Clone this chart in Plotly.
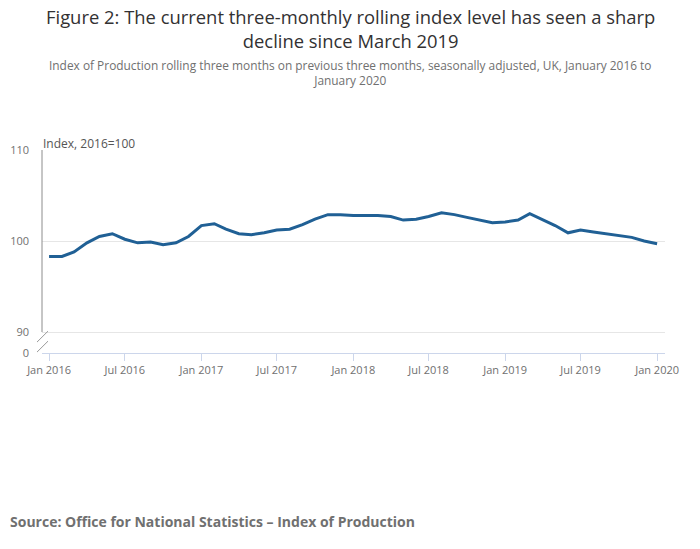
import plotly.graph_objects as go

months = [
    "2016-01-01", "2016-02-01", "2016-03-01", "2016-04-01", "2016-05-01", "2016-06-01",
    "2016-07-01", "2016-08-01", "2016-09-01", "2016-10-01", "2016-11-01", "2016-12-01",
    "2017-01-01", "2017-02-01", "2017-03-01", "2017-04-01", "2017-05-01", "2017-06-01",
    "2017-07-01", "2017-08-01", "2017-09-01", "2017-10-01", "2017-11-01", "2017-12-01",
    "2018-01-01", "2018-02-01", "2018-03-01", "2018-04-01", "2018-05-01", "2018-06-01",
    "2018-07-01", "2018-08-01", "2018-09-01", "2018-10-01", "2018-11-01", "2018-12-01",
    "2019-01-01", "2019-02-01", "2019-03-01", "2019-04-01", "2019-05-01", "2019-06-01",
    "2019-07-01", "2019-08-01", "2019-09-01", "2019-10-01", "2019-11-01", "2019-12-01",
    "2020-01-01",
]

index_values = [
    98.3, 98.3, 98.8, 99.8, 100.5, 100.8, 100.2, 99.8, 99.9, 99.6, 99.8, 100.5,
    101.7, 101.9, 101.3, 100.8, 100.7, 100.9, 101.2, 101.3, 101.8, 102.4, 102.9, 102.9,
    102.8, 102.8, 102.8, 102.7, 102.3, 102.4, 102.7, 103.1, 102.9, 102.6, 102.3, 102.0,
    102.1, 102.3, 103.0, 102.3, 101.7, 100.9, 101.2, 101.0, 100.8, 100.6, 100.4, 100.0,
    99.7,
]

x_tick_vals = [
    "2016-01-01", "2016-07-01", "2017-01-01", "2017-07-01", "2018-01-01",
    "2018-07-01", "2019-01-01", "2019-07-01", "2020-01-01",
]
x_tick_text = [
    "Jan 2016", "Jul 2016", "Jan 2017", "Jul 2017", "Jan 2018",
    "Jul 2018", "Jan 2019", "Jul 2019", "Jan 2020",
]

y_break_pos = 87.7
y_tick_vals = [y_break_pos, 90, 100, 110]
y_tick_text = ["0", "90", "100", "110"]

title_text = ("Figure 2: The current three-monthly rolling index level has seen a sharp"
              "<br>decline since March 2019")
subtitle_text = ("Index of Production rolling three months on previous three months, "
                 "seasonally adjusted, UK, January 2016 to<br>January 2020")
unit_text = "Index, 2016=100"
source_text = "<b>Source: Office for National Statistics – Index of Production</b>"

FONT = "Open Sans, Noto Sans, sans-serif"
W, H = 700, 549
ML, MR, MT, MB = 42, 35, 150, 196
plot_h = H - MT - MB
plot_w = W - ML - MR


def py(px_from_top):
    return (H - MB - px_from_top) / plot_h


def px(px_from_left):
    return (px_from_left - ML) / plot_w


fig = go.Figure()
fig.add_trace(go.Scatter(
    x=months, y=index_values, mode="lines",
    line=dict(color="#206095", width=3),
    name="Index", showlegend=False,
))

annotations = [
    dict(text=title_text, x=px(350), y=py(28), xref="paper", yref="paper",
         showarrow=False, font=dict(size=18.4, color="#323132", family=FONT),
         xanchor="center", yanchor="middle"),
    dict(text=subtitle_text, x=px(350), y=py(72.5), xref="paper", yref="paper",
         showarrow=False, font=dict(size=11.9, color="#707070", family=FONT),
         xanchor="center", yanchor="middle"),
    dict(text=unit_text, x=px(41), y=py(143), xref="paper", yref="paper",
         showarrow=False, font=dict(size=12, color="#555555", family=FONT),
         xanchor="left", yanchor="middle"),
    dict(text=source_text, x=px(8), y=py(521), xref="paper", yref="paper",
         showarrow=False, font=dict(size=14, color="#707070", family=FONT),
         xanchor="left", yanchor="middle"),
]

fig.update_layout(
    width=W, height=H,
    margin=dict(l=ML, r=MR, t=MT, b=MB, autoexpand=False),
    paper_bgcolor="white", plot_bgcolor="white",
    font=dict(family=FONT, color="#707070", size=11),
    xaxis=dict(
        range=["2015-12-15", "2020-01-20"],
        tickvals=x_tick_vals, ticktext=x_tick_text,
        showgrid=False, showline=True, linecolor="#ccd6eb", linewidth=1,
        ticks="outside", ticklen=7, tickcolor="#ccd6eb",
        tickfont=dict(size=11, color="#707070"),
        zeroline=False, fixedrange=True, automargin=False,
    ),
    yaxis=dict(
        range=[y_break_pos, 110],
        tickvals=y_tick_vals, ticktext=y_tick_text,
        showgrid=True, gridcolor="#e6e6e6", gridwidth=1,
        showline=False, zeroline=False, ticks="",
        ticklabelstandoff=12,
        tickfont=dict(size=11, color="#707070"),
        fixedrange=True, automargin=False,
    ),
    annotations=annotations,
)

# y-axis line (broken) and break marks
fig.add_shape(type="line", xref="x domain", yref="y", x0=0, x1=0, y0=90, y1=110,
              line=dict(color="#8c8c8c", width=1))
fig.add_shape(type="line", xref="x domain", yref="y",
              x0=px(37), x1=px(48), y0=88.9, y1=90.1,
              line=dict(color="#999999", width=1))
fig.add_shape(type="line", xref="x domain", yref="y",
              x0=px(37), x1=px(48), y0=87.8, y1=89.0,
              line=dict(color="#999999", width=1))

fig.write_html("out.html", config={"displayModeBar": False},
               post_script="document.body.style.margin='0';")
